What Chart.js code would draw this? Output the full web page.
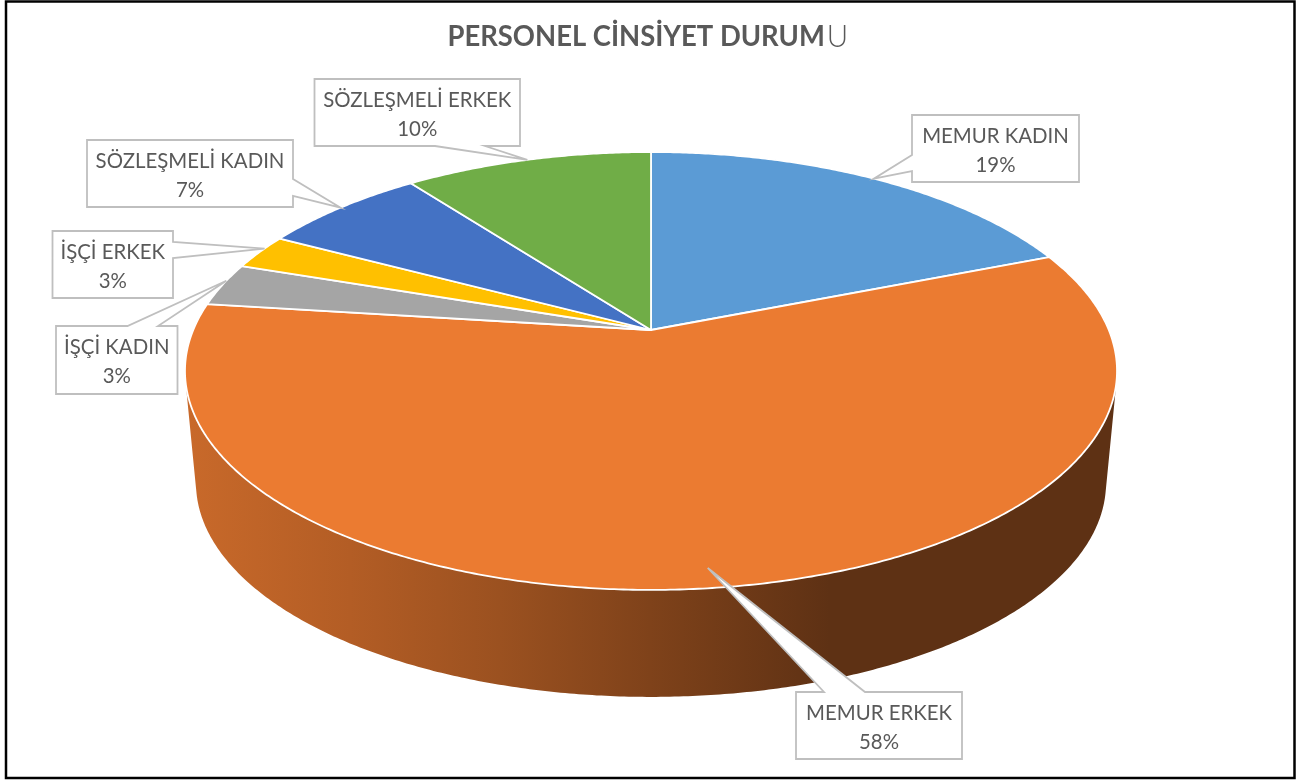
<!DOCTYPE html>
<html lang="tr"><head><meta charset="utf-8">
<style>html,body{margin:0;padding:0;background:#fff}canvas{display:block}</style>
<script src="https://cdn.jsdelivr.net/npm/chart.js@4"></script></head>
<body><div style="width:1306px;height:780px"><canvas id="c" width="1306" height="780"></canvas></div>
<script>
const categories = ['MEMUR KADIN','MEMUR ERKEK','İŞÇİ KADIN','İŞÇİ ERKEK','SÖZLEŞMELİ KADIN','SÖZLEŞMELİ ERKEK'];
const values = [19, 58, 3.2, 2.6, 6.9, 10.3];
const colors = ['#5B9BD5','#EB7B31','#A5A5A5','#FFC000','#4472C4','#70AD47'];

// Perspective of the tilted disc
const P = {cx:651, cy:330, A:457.8, B:211.3, k:0.187};
// Lower rim of the wall relative to the upper rim's ellipse
const W = {ex:651, ey:371, bx:651, by:483, sx:455/466, sy:214/219};
const wallShades = [[190,.85],[350,.76],[500,.66],[650,.54],[830,.40],[1115,.40]];
// Callout boxes: x0,y0,x1,y1, side with the pointer, pointer base, tip angle shift (rad), tip radius fraction
const callouts = [
 {r:[912,115,1079,182],side:'left',b:[155,171],da:0,f:1},
 {r:[796,692,962,759],side:'top',b:[824,865],da:0.016,f:.936},
 {r:[56,326,177.5,394],side:'top',b:[127.5,158],da:0.02,f:1},
 {r:[52.5,231,173,298],side:'right',b:[242,258],da:0.02,f:1},
 {r:[87,140,293,207],side:'right',b:[179,196],da:0,f:1},
 {r:[314.5,79,520,146],side:'bottom',b:[435,485],da:0,f:1}
];

function proj(a,f){
  const u=Math.cos(a)*f, v=Math.sin(a)*f, d=1-P.k*v;
  return [P.cx+P.A*u/d, P.cy+P.B*v/d];
}
function lower(p){ return [W.bx+W.sx*(p[0]-W.ex), W.by+W.sy*(p[1]-W.ey)]; }
function rgb(h){const n=parseInt(h.slice(1),16);return [n>>16,(n>>8)&255,n&255];}
function area(q){let s=0;q.forEach((p,i)=>{const r=q[(i+1)%q.length];s+=p[0]*r[1]-r[0]*p[1];});return s;}

const disc3d = {
  id:'disc3d',
  beforeDatasetsDraw(chart){
    const ctx=chart.ctx, arcs=chart.getDatasetMeta(0).data;
    ctx.save();
    // wall: quads of one winding in a single path, so they merge without seams
    arcs.forEach((arc,i)=>{
      const c=rgb(colors[i]);
      const g=ctx.createLinearGradient(190,0,1115,0);
      wallShades.forEach(([x,s])=>g.addColorStop((x-190)/925,`rgb(${c.map(t=>Math.round(t*s)).join(',')})`));
      ctx.fillStyle=g;
      const n=Math.max(4,Math.ceil((arc.endAngle-arc.startAngle)*120));
      ctx.beginPath();
      for(let j=0;j<n;j++){
        const a0=arc.startAngle+(arc.endAngle-arc.startAngle)*j/n, a1=arc.startAngle+(arc.endAngle-arc.startAngle)*(j+1)/n;
        const p0=proj(a0,1),p1=proj(a1,1);
        let q=[p0,p1,lower(p1),lower(p0)];
        if(area(q)<0)q=q.reverse();
        q.forEach((p,k)=>k?ctx.lineTo(...p):ctx.moveTo(...p));ctx.closePath();
      }
      ctx.fill('nonzero');
    });
    // top faces
    arcs.forEach((arc,i)=>{
      const n=Math.max(8,Math.ceil((arc.endAngle-arc.startAngle)*120));
      ctx.beginPath();ctx.moveTo(P.cx,P.cy);
      for(let j=0;j<=n;j++) ctx.lineTo(...proj(arc.startAngle+(arc.endAngle-arc.startAngle)*j/n,1));
      ctx.closePath();
      ctx.fillStyle=colors[i];ctx.fill();
      ctx.strokeStyle='#fff';ctx.lineWidth=1.8;ctx.lineJoin='round';ctx.stroke();
    });
    ctx.restore();
    return false;
  },
  afterDraw(chart){
    const ctx=chart.ctx, arcs=chart.getDatasetMeta(0).data;
    const total=values.reduce((s,v)=>s+v,0);
    ctx.save();
    // frame
    ctx.strokeStyle='#000';ctx.lineWidth=2.5;ctx.strokeRect(6,1.5,1288.5,776.5);
    // title: a bold run, then a larger light letter, both slightly condensed
    ctx.fillStyle='#595959';ctx.textBaseline='alphabetic';ctx.textAlign='left';
    const t1='PERSONEL CİNSİYET DURUM', t2='U';
    ctx.save();ctx.translate(447.5,46);ctx.scale(.945,1);
    ctx.font='bold 29px Lato';ctx.fillText(t1,0,0);
    const w1=ctx.measureText(t1).width;
    ctx.restore();
    ctx.save();ctx.translate(447.5+w1*.945+2,46.5);ctx.scale(.92,1);
    ctx.font='300 32px Lato';ctx.fillText(t2,0,0);
    ctx.restore();
    // callouts
    callouts.forEach((c,i)=>{
      const arc=arcs[i],mid=(arc.startAngle+arc.endAngle)/2+c.da,tip=proj(mid,c.f);
      const [x0,y0,x1,y1]=c.r,[b0,b1]=c.b;
      const pts=[[x0,y0]];
      if(c.side==='top')pts.push([b0,y0],tip,[b1,y0]);
      pts.push([x1,y0]);
      if(c.side==='right')pts.push([x1,b0],tip,[x1,b1]);
      pts.push([x1,y1]);
      if(c.side==='bottom')pts.push([b1,y1],tip,[b0,y1]);
      pts.push([x0,y1]);
      if(c.side==='left')pts.push([x0,b1],tip,[x0,b0]);
      ctx.beginPath();pts.forEach((p,k)=>k?ctx.lineTo(...p):ctx.moveTo(...p));ctx.closePath();
      ctx.fillStyle='#fff';ctx.fill();
      ctx.strokeStyle='#bfbfbf';ctx.lineWidth=1.8;ctx.lineJoin='miter';ctx.stroke();
      ctx.fillStyle='#595959';ctx.textAlign='center';ctx.font='20.4px Lato';
      const mx=(x0+x1)/2;
      ctx.fillText(categories[i],mx,y0+27.5);
      ctx.fillText(Math.round(values[i]/total*100)+'%',mx,y0+57);
    });
    ctx.restore();
  }
};

new Chart(document.getElementById('c'),{
  type:'pie',
  data:{labels:categories,datasets:[{data:values,backgroundColor:colors,borderColor:'#fff',borderWidth:1.5}]},
  options:{responsive:false,animation:false,events:[],
    layout:{padding:{top:150,bottom:190,left:180,right:180}},
    plugins:{legend:{display:false},tooltip:{enabled:false},title:{display:false}}},
  plugins:[disc3d]
});
</script></body></html>
